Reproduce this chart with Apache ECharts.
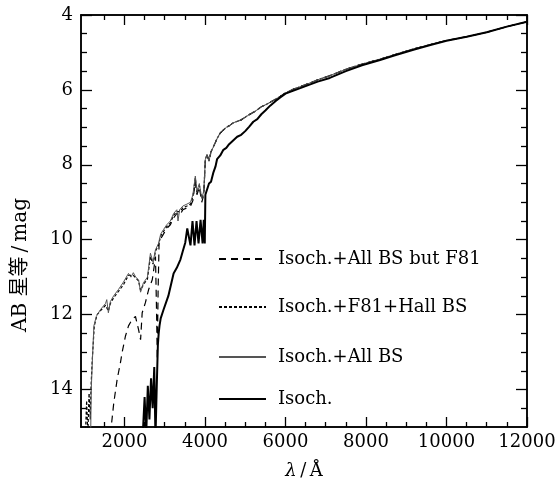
<!DOCTYPE html>
<html><head><meta charset="utf-8">
<script src="https://cdn.jsdelivr.net/npm/echarts@6/dist/echarts.min.js"></script>
<style>html,body{margin:0;padding:0;background:#fff}#c{width:560px;height:497px}</style>
</head><body><div id="c"></div>
<script>
// ---- tick definitions ----
const xMajor = [2000, 4000, 6000, 8000, 10000, 12000];
const xMinor = [1500, 2500, 3000, 3500, 4500, 5000, 5500, 6500, 7000, 7500, 8500, 9000, 9500, 10500, 11000, 11500];
const yMajor = [4, 6, 8, 10, 12, 14];
const yMinor = [4.5, 5, 5.5, 6.5, 7, 7.5, 8.5, 9, 9.5, 10.5, 11, 11.5, 12.5, 13, 13.5, 14.5];

// ---- series names ----
const names = ['Isoch.+All BS but F81', 'Isoch.+F81+Hall BS', 'Isoch.+All BS', 'Isoch.'];

// ---- long-wavelength part (shared grid) ----
const lamRed = [4010, 4050, 4100, 4150, 4210, 4260, 4300, 4380, 4457, 4530, 4600, 4700, 4800, 4900, 5000, 5100, 5200, 5300, 5400, 5500, 5620, 5750, 5870, 6000, 6200, 6500, 6800, 7100, 7500, 7900, 8350, 8700, 9200, 9600, 10000, 10500, 11000, 11500, 12000];
const isoRed = [8.8, 8.75, 8.5, 8.45, 8.2, 8.05, 7.85, 7.75, 7.6, 7.55, 7.45, 7.35, 7.25, 7.2, 7.1, 6.98, 6.85, 6.78, 6.65, 6.55, 6.42, 6.3, 6.2, 6.1, 6.02, 5.9, 5.78, 5.68, 5.5, 5.34, 5.2, 5.08, 4.92, 4.8, 4.69, 4.58, 4.46, 4.31, 4.18];
const bsRed = [7.85, 7.73, 7.9, 7.65, 7.52, 7.4, 7.3, 7.15, 7.07, 7.0, 6.96, 6.88, 6.84, 6.8, 6.73, 6.66, 6.6, 6.53, 6.45, 6.4, 6.33, 6.25, 6.17, 6.08, 5.98, 5.86, 5.73, 5.62, 5.45, 5.31, 5.18, 5.06, 4.9, 4.79, 4.68, 4.58, 4.46, 4.31, 4.18];

// ---- short-wavelength parts ----
const lamIsoBlue = [2450, 2500, 2540, 2580, 2620, 2660, 2700, 2740, 2770, 2800, 2830, 2850, 2870, 2900, 2970, 3090, 3220, 3300, 3390, 3450, 3510, 3560, 3590, 3640, 3690, 3740, 3790, 3840, 3890, 3940, 3970, 3995];
const isoBlue = [15.3, 14.2, 15.2, 13.9, 14.8, 13.7, 14.5, 13.4, 15.3, 14.0, 12.8, 12.5, 12.3, 12.1, 11.87, 11.5, 10.9, 10.75, 10.53, 10.3, 10.08, 9.7, 9.65, 10.15, 9.5, 10.15, 9.5, 10.1, 9.47, 10.1, 9.47, 10.1];

const lamAllBlue = [1160, 1175, 1200, 1240, 1300, 1400, 1530, 1560, 1600, 1650, 1730, 1850, 1975, 2100, 2160, 2220, 2280, 2350, 2400, 2470, 2570, 2645, 2710, 2770, 2845, 2900, 2968, 3050, 3140, 3220, 3300, 3330, 3370, 3450, 3550, 3640, 3700, 3760, 3800, 3860, 3920, 3970];
const allBlue = [15.2, 14.0, 13.3, 12.3, 12.05, 11.87, 11.7, 11.6, 11.95, 11.65, 11.5, 11.33, 11.13, 10.9, 11.0, 10.88, 11.0, 11.07, 11.4, 11.15, 11.0, 10.36, 10.6, 10.27, 10.1, 9.85, 9.73, 9.6, 9.5, 9.3, 9.2, 9.5, 9.2, 9.1, 9.05, 9.0, 8.8, 8.3, 8.7, 8.5, 8.9, 8.7];

const lamHallBlue = [1030, 1060, 1090, 1120, 1150, 1170, 1200, 1250, 1320, 1400, 1530, 1600, 1650, 1730, 1850, 1975, 2100, 2220, 2350, 2400, 2470, 2570, 2645, 2710, 2770, 2845, 2900, 2968, 3050, 3140, 3220, 3300, 3370, 3450, 3550, 3640, 3700, 3760, 3800, 3860, 3920, 3970];
const hallBlue = [15.2, 14.3, 15.2, 14.1, 14.8, 13.9, 13.2, 12.3, 12.0, 11.9, 11.75, 11.9, 11.7, 11.55, 11.38, 11.2, 10.95, 10.95, 11.1, 11.35, 11.2, 11.05, 10.45, 10.65, 10.3, 10.15, 9.9, 9.78, 9.65, 9.55, 9.35, 9.25, 9.25, 9.15, 9.1, 9.05, 8.85, 8.35, 8.75, 8.55, 8.9, 8.75];

const lamNoF81Blue = [1650, 1735, 1818, 1900, 1943, 2025, 2100, 2190, 2273, 2350, 2400, 2440, 2520, 2600, 2690, 2740, 2770, 2795, 2815, 2835, 2860, 2968, 3050, 3140, 3220, 3300, 3370, 3450, 3550, 3640, 3700, 3760, 3800, 3860, 3920, 3970];
const noF81Blue = [15.2, 14.35, 13.73, 13.28, 13.0, 12.57, 12.3, 12.13, 12.05, 12.4, 12.67, 11.95, 11.68, 11.33, 11.07, 10.7, 10.45, 11.8, 13.2, 11.4, 10.05, 9.85, 9.7, 9.6, 9.42, 9.3, 9.35, 9.2, 9.15, 9.1, 8.95, 8.45, 8.8, 8.6, 9.0, 8.8];

function pairs(l1, v1, l2, v2) {
  const out = [];
  for (let i = 0; i < l1.length; i++) out.push([l1[i], v1[i]]);
  for (let i = 0; i < l2.length; i++) out.push([l2[i], v2[i]]);
  return out;
}

const FONT = '"DejaVu Serif", "Noto Sans CJK SC", serif';
const X_MIN = 920, X_MAX = 12000, Y_MIN = 4, Y_MAX = 15;
const plain = v => String(v);

function xAx(pos, vals, len, labels, extra) {
  return Object.assign({
    type: 'value', min: X_MIN, max: X_MAX, position: pos,
    axisLine: { show: true, lineStyle: { color: '#000', width: 1.5 } },
    axisTick: { show: true, inside: true, length: len, customValues: vals, lineStyle: { color: '#000', width: 1.3 } },
    axisLabel: labels ? { show: true, customValues: vals, formatter: plain, fontFamily: FONT, fontSize: 18, color: '#000', margin: 6 } : { show: false },
    splitLine: { show: false }
  }, extra || {});
}
function yAx(pos, vals, len, labels, extra) {
  return Object.assign({
    type: 'value', min: Y_MIN, max: Y_MAX, inverse: true, position: pos,
    axisLine: { show: true, lineStyle: { color: '#000', width: 1.5 } },
    axisTick: { show: true, inside: true, length: len, customValues: vals, lineStyle: { color: '#000', width: 1.3 } },
    axisLabel: labels ? { show: true, customValues: vals, formatter: plain, fontFamily: FONT, fontSize: 18, color: '#000', margin: 8 } : { show: false },
    splitLine: { show: false }
  }, extra || {});
}

const styles = [
  { color: '#000', width: 1.2, type: [7, 5] },
  { color: '#000', width: 1.2, type: [3, 2] },
  { color: '#555', width: 1 },
  { color: '#000', width: 2 }
];
const datas = [
  pairs(lamNoF81Blue, noF81Blue, lamRed, bsRed),
  pairs(lamHallBlue, hallBlue, lamRed, bsRed),
  pairs(lamAllBlue, allBlue, lamRed, bsRed),
  pairs(lamIsoBlue, isoBlue, lamRed, isoRed)
];
const legendY = [257, 305, 355, 397];

const chart = echarts.init(document.getElementById('c'), null, { renderer: 'canvas' });
chart.setOption({
  animation: false,
  backgroundColor: '#fff',
  grid: { left: 81, right: 33, top: 15, bottom: 70, containLabel: false },
  xAxis: [
    xAx('bottom', xMajor, 10, true, {
      name: '{i|λ}\u2009/\u2009Å', nameLocation: 'middle', nameGap: 35,
      nameTextStyle: { fontFamily: FONT, fontSize: 18, color: '#000', rich: { i: { fontStyle: 'italic', fontFamily: FONT, fontSize: 18, color: '#000' } } }
    }),
    xAx('bottom', xMinor, 5, false),
    xAx('top', xMajor, 10, false),
    xAx('top', xMinor, 5, false)
  ],
  yAxis: [
    yAx('left', yMajor, 11, true),
    yAx('left', yMinor, 6, false),
    yAx('right', yMajor, 11, false),
    yAx('right', yMinor, 6, false)
  ],
  legend: names.map((n, i) => ({
    data: [n], left: 218, top: legendY[i] - 7, itemWidth: 47, itemHeight: 14, padding: 0,
    itemStyle: { opacity: 0 },
    textStyle: { fontFamily: FONT, fontSize: 18, color: '#000', padding: [0, 0, 0, 7] },
    selectedMode: false
  })),
  graphic: [{
    type: 'text', x: 21, y: 265, rotation: Math.PI / 2,
    style: { text: 'AB 星等\u2009/\u2009mag', font: '20px ' + FONT, align: 'center', verticalAlign: 'middle', fill: '#000' }
  }],
  series: names.map((n, i) => ({
    name: n, type: 'line', xAxisIndex: 0, yAxisIndex: 0,
    symbol: 'none', showSymbol: false, clip: true,
    lineStyle: styles[i], itemStyle: { color: styles[i].color },
    data: datas[i], z: 2 + i
  }))
});
</script></body></html>
